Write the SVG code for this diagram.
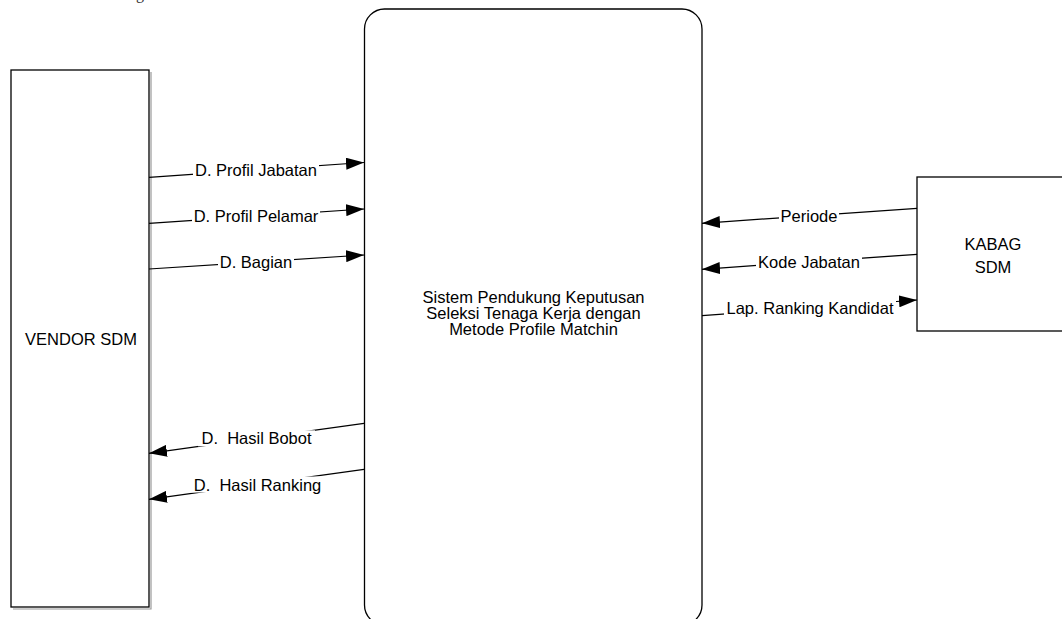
<svg xmlns="http://www.w3.org/2000/svg" width="1062" height="619" viewBox="0 0 1062 619">
<style>
.box{fill:#fff;stroke:#000;stroke-width:1.3}
.shadow{fill:none;stroke:#999;stroke-width:1.2}
.lbl{font-family:"Liberation Sans",Arial,sans-serif;font-size:16.5px;fill:#000;text-anchor:middle;dominant-baseline:central;white-space:pre}
.flow line{stroke:#000;stroke-width:1.2}
.bg{fill:#fff}
.cap{font-family:"Liberation Serif","Times New Roman",serif;font-size:16px;fill:#333}
</style>
<defs>
<marker id="ah" viewBox="0 0 18 12" refX="18" refY="6" markerWidth="18" markerHeight="12" markerUnits="userSpaceOnUse" orient="auto">
<path d="M0,0 L18,6 L0,12 Z" fill="#000"/>
</marker>
</defs>
<rect width="1062" height="619" fill="#fff"/>
<text class="cap" x="113" y="-1.5">Diagram Context</text>

<g id="vendor">
<path class="shadow" d="M151,72 V609 H13"/>
<rect class="box" x="11" y="70" width="138" height="537"/>
<text class="lbl" x="81" y="339">VENDOR SDM</text>
</g>

<g id="system">
<rect class="box" x="364.5" y="9" width="337.5" height="616" rx="20" ry="20"/>
<text class="lbl" x="533.5" y="297">Sistem Pendukung Keputusan</text>
<text class="lbl" x="533.5" y="313">Seleksi Tenaga Kerja dengan</text>
<text class="lbl" x="533.5" y="329">Metode Profile Matchin</text>
</g>

<g id="kabag">
<rect class="box" x="917" y="177" width="150" height="154"/>
<text class="lbl" x="993" y="244">KABAG</text>
<text class="lbl" x="993" y="267">SDM</text>
</g>

<g id="connectors" class="flow">
<line x1="149" y1="177.3" x2="364" y2="162.5" marker-end="url(#ah)"/>
<rect class="bg" x="193" y="161.5" width="126" height="16"/>
<text class="lbl" x="256" y="169.5">D. Profil Jabatan</text>
<line x1="149" y1="223.3" x2="364" y2="209" marker-end="url(#ah)"/>
<rect class="bg" x="192" y="208" width="128" height="16"/>
<text class="lbl" x="256" y="216">D. Profil Pelamar</text>
<line x1="149" y1="269" x2="364" y2="255" marker-end="url(#ah)"/>
<rect class="bg" x="218" y="254" width="76" height="16"/>
<text class="lbl" x="256" y="262">D. Bagian</text>
<line x1="364" y1="423.3" x2="149" y2="453.3" marker-end="url(#ah)"/>
<rect class="bg" x="198" y="430.3" width="117" height="16"/>
<text class="lbl" x="256.5" y="438.3" xml:space="preserve">D.  Hasil Bobot</text>
<line x1="364" y1="469.3" x2="149" y2="499.3" marker-end="url(#ah)"/>
<rect class="bg" x="190" y="476.5" width="135" height="16"/>
<text class="lbl" x="257.5" y="484.5" xml:space="preserve">D.  Hasil Ranking</text>
<line x1="917" y1="208.3" x2="702" y2="223.3" marker-end="url(#ah)"/>
<rect class="bg" x="779" y="207.5" width="60" height="16"/>
<text class="lbl" x="809" y="215.5">Periode</text>
<line x1="917" y1="254.3" x2="702" y2="269.3" marker-end="url(#ah)"/>
<rect class="bg" x="756" y="253.5" width="106" height="16"/>
<text class="lbl" x="809" y="261.5">Kode Jabatan</text>
<line x1="702" y1="315.7" x2="917" y2="300" marker-end="url(#ah)"/>
<rect class="bg" x="724" y="299.5" width="172" height="16"/>
<text class="lbl" x="810" y="307.5">Lap. Ranking Kandidat</text>
</g>
</svg>
